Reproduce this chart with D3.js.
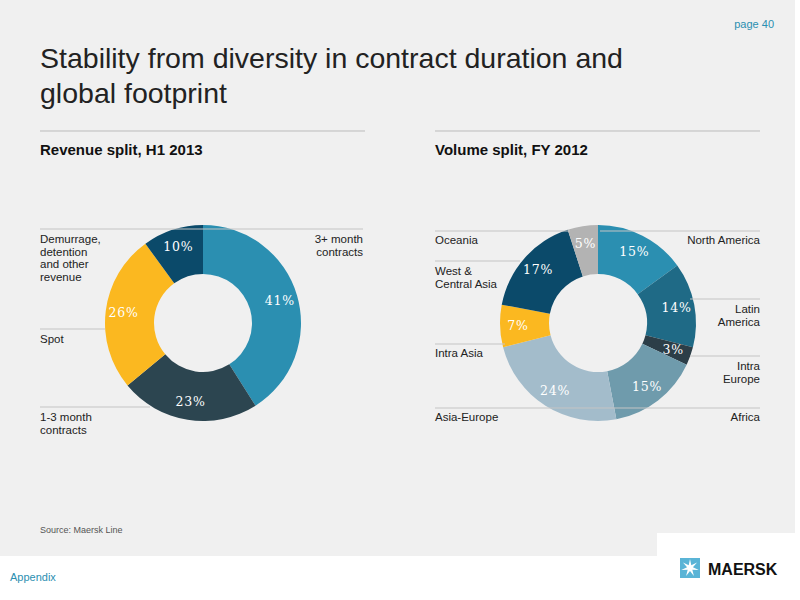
<!DOCTYPE html>
<html>
<head>
<meta charset="utf-8">
<script src="https://cdn.jsdelivr.net/npm/d3@7"></script>
<style>body{margin:0;background:#fff;font-family:"Liberation Sans",Arial,sans-serif}</style>
</head>
<body>
<div id="chart"></div>
<script>
const revLabels = ["3+ month contracts", "1-3 month contracts", "Spot", "Demurrage, detention and other revenue"];
const revValues = [41, 23, 26, 10];
const revColors = ["#2b8fb1", "#2c4550", "#fbb820", "#0b4a6a"];

const volLabels = ["North America", "Latin America", "Intra Europe", "Africa", "Asia-Europe", "Intra Asia", "West & Central Asia", "Oceania"];
const volValues = [15, 14, 3, 15, 24, 7, 17, 5];
const volColors = ["#2b8fb1", "#1f6a86", "#2c3e48", "#6f9bac", "#a3bccb", "#fbb820", "#0b4a6a", "#b3b3b3"];

const svg = d3.select("#chart").append("svg").attr("width", 800).attr("height", 600);
svg.append("rect").attr("width", 795).attr("height", 556).attr("fill", "#f0f0f0");
svg.append("rect").attr("x", 657).attr("y", 533).attr("width", 143).attr("height", 67).attr("fill", "#fff");

svg.append("text").attr("x", 774).attr("y", 28).attr("text-anchor", "end").attr("font-size", 11).attr("fill", "#2b8fb1").text("page 40");
const title = svg.append("text").attr("font-size", 28.5).attr("fill", "#222");
title.append("tspan").attr("x", 40).attr("y", 68).text("Stability from diversity in contract duration and");
title.append("tspan").attr("x", 40).attr("y", 103).text("global footprint");

[[40, "Revenue split, H1 2013"], [435, "Volume split, FY 2012"]].forEach(([x, t]) => {
  svg.append("line").attr("x1", x).attr("x2", x + 325).attr("y1", 131).attr("y2", 131).attr("stroke", "#bbb");
  svg.append("text").attr("x", x).attr("y", 155).attr("font-size", 15).attr("font-weight", "bold").attr("fill", "#111").text(t);
});

function donut(cx, cy, values, colors) {
  const pie = d3.pie().sort(null)(values);
  const arc = d3.arc().innerRadius(49).outerRadius(98);
  const lab = d3.arc().innerRadius(80).outerRadius(80);
  const g = svg.append("g").attr("transform", `translate(${cx},${cy})`);
  g.selectAll("path").data(pie).join("path").attr("d", arc).attr("fill", (d, i) => colors[i]);
  g.selectAll("text").data(pie).join("text")
    .attr("transform", d => `translate(${lab.centroid(d)})`)
    .attr("text-anchor", "middle").attr("dy", "0.35em")
    .attr("font-family", "DejaVu Serif").attr("font-size", 12.5)
    .attr("letter-spacing", 0.8).attr("fill", "#fff")
    .text(d => d.data + "%");
}
donut(203, 323, revValues, revColors);
donut(598, 323, volValues, volColors);

function guide(x1, x2, y) {
  svg.append("line").attr("x1", x1).attr("x2", x2).attr("y1", y).attr("y2", y).attr("stroke", "#c4c4c4");
}
function label(x, y, lines, anchor) {
  const t = svg.append("text").attr("font-size", 11.5).attr("fill", "#222").attr("text-anchor", anchor);
  lines.forEach((l, i) => t.append("tspan").attr("x", x).attr("y", y + i * 12.5).text(l));
}
// revenue labels
guide(40, 363, 229);
label(363, 243, ["3+ month", "contracts"], "end");
label(40, 243, ["Demurrage,", "detention", "and other", "revenue"], "start");
guide(40, 105, 329);
label(40, 343, [revLabels[2]], "start");
guide(40, 150, 407);
label(40, 421, ["1-3 month", "contracts"], "start");

// volume labels
guide(435, 570, 231); guide(600, 760, 231);
label(435, 244, [volLabels[7]], "start");
label(760, 244, [volLabels[0]], "end");
guide(435, 520, 261);
label(435, 275, ["West &", "Central Asia"], "start");
guide(690, 760, 299);
label(760, 313, ["Latin", "America"], "end");
guide(435, 505, 344);
label(435, 357, [volLabels[5]], "start");
guide(690, 760, 356);
label(760, 370, ["Intra", "Europe"], "end");
guide(435, 760, 408);
label(435, 421, [volLabels[4]], "start");
label(760, 421, [volLabels[3]], "end");

svg.append("text").attr("x", 40).attr("y", 533).attr("font-size", 9).attr("fill", "#555").text("Source: Maersk Line");
svg.append("text").attr("x", 10).attr("y", 581).attr("font-size", 11).attr("fill", "#2b8fb1").text("Appendix");

// logo
svg.append("rect").attr("x", 680).attr("y", 558).attr("width", 20).attr("height", 20).attr("fill", "#5ab4d6");
const star = d3.range(14).map(i => {
  const a = i * Math.PI / 7 - Math.PI / 2, r = i % 2 ? 3 : 9;
  return [690 + r * Math.cos(a), 568 + r * Math.sin(a)];
});
svg.append("path").attr("d", d3.line()(star) + "Z").attr("fill", "#fff");
svg.append("text").attr("x", 708).attr("y", 575).attr("font-size", 16).attr("font-weight", "bold").attr("fill", "#111").text("MAERSK");
</script>
</body>
</html>
